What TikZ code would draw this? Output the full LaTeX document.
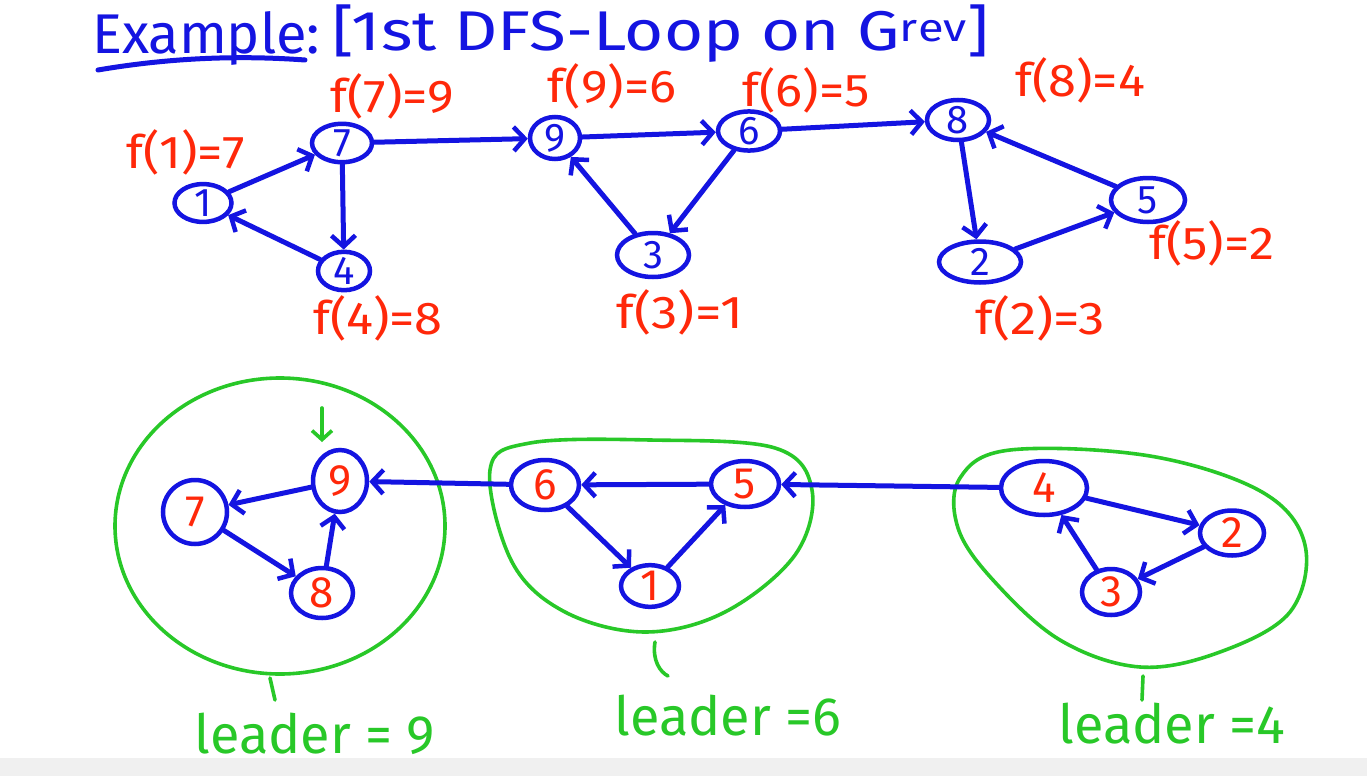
\documentclass[tikz,border=0pt]{standalone}
\usepackage{graphicx}
\usepackage{fontspec}
\setmainfont{Fira Sans}
\usetikzlibrary{shapes.geometric,arrows.meta}
\definecolor{pblue}{RGB}{20,20,225}
\definecolor{pred}{RGB}{255,40,10}
\definecolor{pgreen}{RGB}{40,200,40}
\newcommand\hw[2]{\scalebox{#1}[1]{#2}}
\tikzset{
  nd/.style={ellipse,draw=pblue,line width=4.5pt,inner sep=0pt,text=pblue,font=\fontsize{40}{42}\selectfont},
  bn/.style={ellipse,draw=pblue,line width=4.5pt,inner sep=0pt,text=pred,font=\fontsize{44}{46}\selectfont},
  ed/.style={draw=pblue,line width=5pt,line cap=round,-{Straight Barb[length=11pt,width=24pt,line width=4.5pt]}},
  flab/.style={text=pred,font=\fontsize{46}{50}\selectfont,inner sep=0pt},
  scc/.style={draw=pgreen,line width=3.6pt},
  lead/.style={text=pgreen,font=\fontsize{54}{58}\selectfont,inner sep=0pt},
  tick/.style={draw=pgreen,line width=3.6pt,line cap=round},
  ttl/.style={text=pblue,font=\fontsize{56}{60}\selectfont,inner sep=0pt}
}
\begin{document}
\begin{tikzpicture}[x=1pt,y=-1pt]
\useasboundingbox (0,0) rectangle (1367,776);
\fill[white] (0,0) rectangle (1367,776);
\fill[black!6] (0,758) rectangle (1367,776);
% title
\node[ttl,anchor=west] (title1) at (92,38) {Example:};
\draw[pblue,line width=5pt,line cap=round] (98,70) .. controls (180,56) and (250,56) .. (305,60);
\node[ttl,anchor=west] (title2) at (332,34) {\hw{1.2}{[1st DFS-Loop on G$^{\mathrm{rev}}$]}};
% top graph
\node[nd,minimum width=57pt,minimum height=37pt] (t1) at (203,203) {1};
\node[nd,minimum width=60pt,minimum height=36pt] (t7) at (342,143) {7};
\node[nd,minimum width=52pt,minimum height=38pt] (t4) at (344,271) {4};
\node[nd,minimum width=50pt,minimum height=42pt] (t9) at (555,138) {9};
\node[nd,minimum width=62pt,minimum height=36pt] (t6) at (749,131) {6};
\node[nd,minimum width=72pt,minimum height=44pt] (t3) at (653,255) {3};
\node[nd,minimum width=62pt,minimum height=40pt] (t8) at (958,120) {8};
\node[nd,minimum width=82pt,minimum height=41pt] (t2) at (980,262) {2};
\node[nd,minimum width=74pt,minimum height=44pt] (t5) at (1148,200) {5};
\draw[ed] (t1) -- (t7);
\draw[ed] (t7) -- (t4);
\draw[ed] (t4) -- (t1);
\draw[ed] (t7) -- (t9);
\draw[ed] (t9) -- (t6);
\draw[ed] (t6) -- (t3);
\draw[ed] (t3) -- (t9);
\draw[ed] (t6) -- (t8);
\draw[ed] (t8) -- (t2);
\draw[ed] (t2) -- (t5);
\draw[ed] (t5) -- (t8);
% f labels
\node[flab] (f1) at (186,152) {\hw{1.1}{f(1)=7}};
\node[flab] (f7) at (392,96) {\hw{1.1}{f(7)=9}};
\node[flab] (f4) at (378,318) {\hw{1.1}{f(4)=8}};
\node[flab] (f9) at (612,86) {\hw{1.1}{f(9)=6}};
\node[flab] (f6) at (806,90) {\hw{1.1}{f(6)=5}};
\node[flab] (f3) at (680,312) {\hw{1.15}{f(3)=1}};
\node[flab] (f8) at (1080,80) {\hw{1.1}{f(8)=4}};
\node[flab] (f5) at (1212,243) {\hw{1.1}{f(5)=2}};
\node[flab] (f2) at (1040,318) {\hw{1.15}{f(2)=3}};
% bottom SCC 1
\node[bn,minimum width=64pt,minimum height=64pt] (b7) at (195,512) {7};
\node[bn,minimum width=54pt,minimum height=62pt] (b9) at (340,481) {9};
\node[bn,minimum width=62pt,minimum height=50pt] (b8) at (322,593) {8};
\draw[ed] (b9) -- (b7);
\draw[ed] (b7) -- (b8);
\draw[ed] (b8) -- (b9);
\draw[scc] (280,526) ellipse [x radius=165, y radius=148];
\coordinate (ga) at (322,408);
\coordinate (gb) at (322,442);
\draw[draw=pgreen,line width=3.6pt,line cap=round,-{Straight Barb[length=9pt,width=20pt,line width=3.6pt]}] (ga) -- (gb);
% bottom SCC 2
\node[bn,minimum width=68pt,minimum height=50pt] (b6) at (545,485) {6};
\node[bn,minimum width=68pt,minimum height=46pt] (b5) at (745,484) {5};
\node[bn,minimum width=58pt,minimum height=38pt] (b1) at (650,586) {1};
\draw[ed] (b6) -- (b1);
\draw[ed] (b1) -- (b5);
\draw[ed] (b5) -- (b6);
\draw[scc] plot[smooth cycle,tension=0.6] coordinates {(490,470) (530,443) (650,440) (775,448) (812,490) (795,555) (725,612) (645,632) (565,612) (512,562)};
% bottom SCC 3
\node[bn,minimum width=86pt,minimum height=54pt] (b4) at (1044,488) {4};
\node[bn,minimum width=64pt,minimum height=45pt] (b2) at (1232,533) {2};
\node[bn,minimum width=58pt,minimum height=46pt] (b3) at (1111,592) {3};
\draw[ed] (b4) -- (b2);
\draw[ed] (b2) -- (b3);
\draw[ed] (b3) -- (b4);
\draw[scc] plot[smooth cycle,tension=0.6] coordinates {(960,478) (1010,450) (1150,456) (1262,492) (1305,545) (1290,612) (1220,652) (1140,667) (1060,640) (993,580) (958,528)};
% inter-SCC edges
\draw[ed] (b4) -- (b5);
\draw[ed] (b6) -- (b9);
% ticks and leaders
\draw[tick] (270,678) -- (275,700);
\draw[tick] (655,642) .. controls (652,660) and (660,672) .. (668,676);
\draw[tick] (1143,676) -- (1142,700);
\node[lead] (l1) at (315,734) {leader = 9};
\node[lead] (l2) at (728,716) {leader =6};
\node[lead] (l3) at (1172,724) {leader =4};
\end{tikzpicture}
\end{document}
